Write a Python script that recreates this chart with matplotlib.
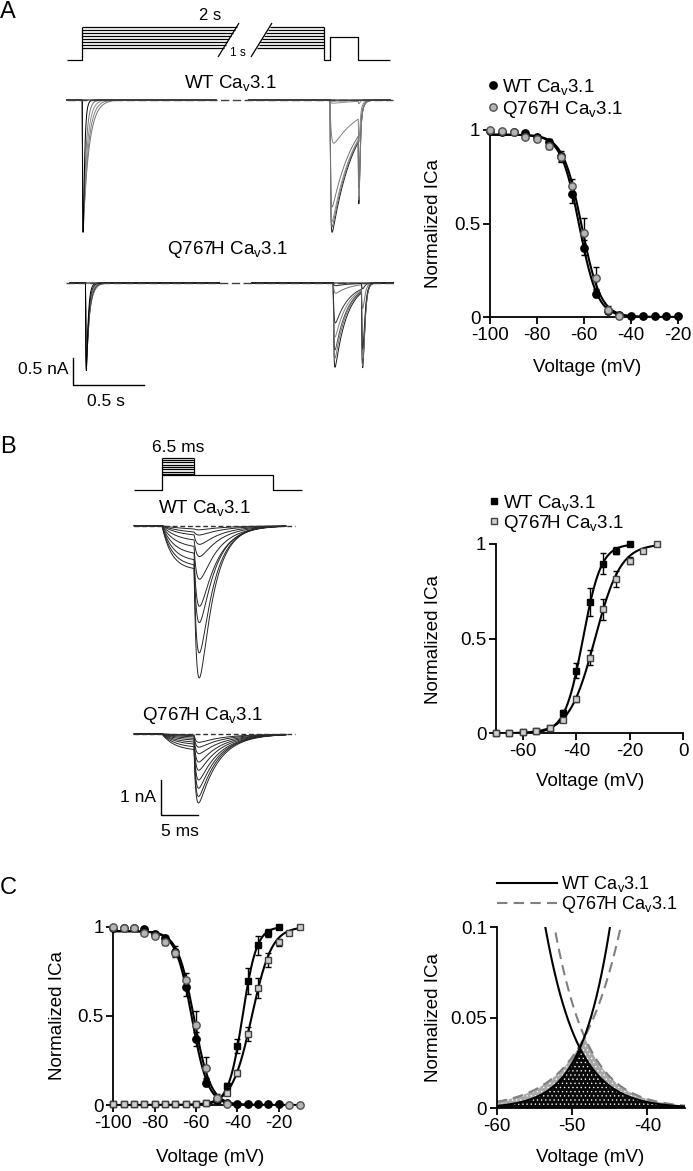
import numpy as np
import matplotlib
matplotlib.use("Agg")
import matplotlib.pyplot as plt
from matplotlib.lines import Line2D

plt.rcParams['font.family'] = ['Liberation Sans', 'DejaVu Sans']
plt.rcParams['mathtext.fontset'] = 'custom'
plt.rcParams['mathtext.rm'] = 'Liberation Sans'
plt.rcParams['mathtext.it'] = 'Liberation Sans:italic'
plt.rcParams['axes.unicode_minus'] = False
plt.rcParams['hatch.linewidth'] = 0.45
plt.rcParams['hatch.color'] = 'white'

W, H = 693, 1171
WT = r'WT Ca$_\mathrm{v}$3.1'
QH = r'Q767H Ca$_\mathrm{v}$3.1'

# ---------------- data ----------------
# steady-state inactivation (normalized ICa), mean and SEM
inact_v = [-100, -95, -90, -85, -80, -75, -70, -65, -60, -55,
           -50, -45, -40, -35, -30, -25, -20, -15, -10]
wt_inact = [0.995, 0.99, 0.99, 0.985, 0.96, 0.935, 0.86, 0.66, 0.37, 0.125,
            0.03, 0.01, 0.005, 0.005, 0.005, 0.005, 0.005, np.nan, np.nan]
wt_inact_sem = [0.005, 0.005, 0.005, 0.01, 0.01, 0.015, 0.03, 0.05, 0.04, 0.02,
                0.01, 0.005, 0, 0, 0, 0, 0, np.nan, np.nan]
# Q767H points at -40..-20 lie under the WT symbols
q_inact = [1.0, 0.995, 0.99, 0.965, 0.95, 0.915, 0.855, 0.70, 0.45, 0.21,
           0.04, 0.008, np.nan, np.nan, np.nan, np.nan, np.nan, 0.0, 0.0]
q_inact_sem = [0, 0, 0, 0.01, 0.01, 0.015, 0.02, 0.04, 0.08, 0.06,
               0.02, 0, np.nan, np.nan, np.nan, np.nan, np.nan, 0, 0]

# activation (normalized ICa), mean and SEM
act_v = [-100, -95, -90, -85, -80, -75, -70, -65, -60, -55,
         -50, -45, -40, -35, -30, -25, -20, -15, -10]
wt_act = [0.003, 0.003, 0.003, 0.003, 0.003, 0.003, 0.004, 0.004, 0.007, 0.01,
          0.03, 0.105, 0.33, 0.695, 0.895, 0.965, 0.998, np.nan, np.nan]
wt_act_sem = [0.003, 0.003, 0.003, 0.003, 0.003, 0.003, 0.003, 0.003, 0.003, 0.005,
              0.01, 0.02, 0.04, 0.075, 0.055, 0.02, 0.005, np.nan, np.nan]
q_act = [0.003, 0.003, 0.003, 0.003, 0.003, 0.003, 0.003, 0.004, 0.006, 0.01,
         0.03, 0.07, 0.18, 0.40, 0.655, 0.815, 0.912, 0.965, 1.0]
q_act_sem = [0.003, 0.003, 0.003, 0.003, 0.003, 0.003, 0.003, 0.003, 0.003, 0.005,
             0.01, 0.01, 0.015, 0.04, 0.055, 0.04, 0.02, 0.01, 0.005]

# Boltzmann fit parameters (V1/2 in mV, slope k in mV)
wt_inact_fit = (-62.0, 3.9)
q_inact_fit = (-61.0, 4.0)
wt_act_fit = (-37.5, 3.4)
q_act_fit = (-33.0, 4.8)
inact_top = 0.975

# Panel A protocol (mV) and timing (display seconds)
a_hold = -110
a_cond_levels = [-70, -60, -50, -40, -30, -20, -10, 0]
a_test_level = -35
a_t_start, a_cond_end, a_test_on, a_test_off, a_t_end = -0.11, 1.697, 1.737, 1.935, 2.16
a_gap = (0.94, 1.165)

# Panel A current sweeps (peak nA, time constants s)
wt_a_cond_amp = [0.0, 0.0, 0.0, 2.1, 2.2, 2.3, 2.4, 2.45]
wt_a_cond_tau = [0.04, 0.04, 0.04, 0.042, 0.034, 0.026, 0.018, 0.010]
wt_a_test_amp = [2.45, 2.35, 2.25, 1.98, 0.80, 0.06, 0.02, 0.0]
wt_a_test_rise = [0.004, 0.004, 0.004, 0.004, 0.008, 0.006, 0.006, 0.006]
wt_a_test_tau = [0.157, 0.157, 0.16, 0.165, 0.2, 0.2, 0.2, 0.2]
wt_a_tail_amp = [1.3, 1.25, 1.2, 1.1, 0.5, 0.05, 0.0, 0.0]

q_a_cond_amp = [0.0, 0.0, 1.1, 1.25, 1.38, 1.48, 1.56, 1.62]
q_a_cond_tau = [0.026, 0.026, 0.026, 0.024, 0.021, 0.018, 0.015, 0.012]
q_a_test_amp = [1.56, 1.39, 1.24, 1.00, 0.74, 0.19, 0.05, 0.0]
q_a_test_rise = [0.004, 0.004, 0.004, 0.004, 0.005, 0.006, 0.006, 0.006]
q_a_test_tau = [0.085, 0.085, 0.087, 0.09, 0.095, 0.1, 0.1, 0.1]
q_a_tail_amp = [1.45, 1.42, 1.38, 1.3, 1.15, 0.45, 0.1, 0.0]

# Panel B protocol (mV) and timing (ms)
b_hold = -110
b_pulse_levels = [-45, -35, -25, -15, -5, 5, 15, 25]
b_fixed_level = -50
b_t_start, b_step, b_fixed_end, b_t_end = -3.73, 4.27, 14.84, 18.63

# Panel B current sweeps (nA, ms)
wt_b_pre = [0.12, 0.22, 0.31, 0.46, 0.65, 0.84, 1.03, 1.17, 1.27]
wt_b_pre_tau = [3.0, 2.6, 2.3, 2.0, 1.8, 1.6, 1.5, 1.4, 1.3]
wt_b_tail = [0.12, 0.27, 0.54, 0.89, 1.54, 2.31, 2.77, 3.63, 4.34]
wt_b_decay = [3.5, 3.3, 3.0, 2.8, 2.5, 2.3, 2.1, 1.95, 1.85]
q_b_pre = [0.03, 0.06, 0.10, 0.15, 0.20, 0.26, 0.32, 0.40, 0.48]
q_b_pre_tau = [3.0, 2.8, 2.6, 2.4, 2.2, 2.0, 1.9, 1.8, 1.7]
q_b_tail = [0.24, 0.38, 0.57, 0.81, 1.05, 1.33, 1.57, 1.81, 2.0]
q_b_decay = [3.4, 3.3, 3.2, 3.0, 2.9, 2.8, 2.7, 2.6, 2.6]

# ---------------- helpers ----------------
fig = plt.figure(figsize=(W / 100, H / 100), dpi=100)


def axes_px(x0, y0, x1, y1):
    return fig.add_axes([x0 / W, 1 - y1 / H, (x1 - x0) / W, (y1 - y0) / H])


def text_px(x, y, s, **kw):
    fig.text(x / W, 1 - y / H, s, **kw)


def px_to_data(ax, x, y):
    return ax.transData.inverted().transform((x, H - y))


def trace_axes(box, t0_px, px_per_t, base_px, px_per_i):
    x0, y0, x1, y1 = box
    ax = axes_px(x0, y0, x1, y1)
    ax.set_xlim((x0 - t0_px) / px_per_t, (x1 - t0_px) / px_per_t)
    ax.set_ylim(-(y1 - base_px) / px_per_i, -(y0 - base_px) / px_per_i)
    ax.axis('off')
    return ax


def proto_axes(box, t0_px, px_per_t, hold_px, hold_v, px_per_mv):
    x0, y0, x1, y1 = box
    ax = axes_px(x0, y0, x1, y1)
    ax.set_xlim((x0 - t0_px) / px_per_t, (x1 - t0_px) / px_per_t)
    ax.set_ylim(hold_v - (y1 - hold_px) / px_per_mv, hold_v + (hold_px - y0) / px_per_mv)
    ax.axis('off')
    return ax


def inact_curve(v, v50, k):
    return inact_top / (1 + np.exp((v - v50) / k))


def act_curve(v, v50, k):
    return 1 / (1 + np.exp((v50 - v) / k))


def bi_exp(dt, tr, td):
    # difference of exponentials scaled to a peak of 1
    tpk = tr * td / (td - tr) * np.log(td / tr)
    peak = np.exp(-tpk / td) - np.exp(-tpk / tr)
    return (np.exp(-dt / td) - np.exp(-dt / tr)) / peak


def a_sweep(t, cond_amp, cond_tau, test_amp, test_rise, test_tau, tail_amp, tail_tr, tail_td):
    i = np.zeros_like(t)
    c = (t >= 0) & (t < a_cond_end)
    i[c] = -cond_amp * bi_exp(t[c], 0.003, cond_tau)
    s = (t >= a_test_on) & (t < a_test_off)
    i[s] = -test_amp * bi_exp(t[s] - a_test_on, test_rise, test_tau)
    end = test_amp * bi_exp(a_test_off - a_test_on, test_rise, test_tau)
    f = t >= a_test_off
    dt = t[f] - a_test_off
    i[f] = -(end * np.exp(-dt / 0.02) + tail_amp * bi_exp(dt, tail_tr, tail_td))
    i[(t > a_gap[0]) & (t < a_gap[1])] = np.nan
    return i


def b_sweep(t, pre, pre_tau, tail, decay, tr):
    i = np.zeros_like(t)
    p = (t >= 0) & (t < b_step)
    i[p] = -pre * (1 - np.exp(-t[p] / pre_tau))
    end = pre * (1 - np.exp(-b_step / pre_tau))
    f = t >= b_step
    dt = t[f] - b_step
    i[f] = -(end * np.exp(-dt / tr) + max(tail - end * 0.15, 0) * bi_exp(dt, tr, decay))
    return i


def style(ax):
    for s in ['top', 'right']:
        ax.spines[s].set_visible(False)
    for s in ['left', 'bottom']:
        ax.spines[s].set_linewidth(1.3)
    ax.tick_params(direction='out', length=5, width=1.3, labelsize=13.5, pad=2)


def labels(ax, xc, yc, xlab_y, ylab_x):
    ax.set_xlabel('Voltage (mV)', fontsize=13.5)
    ax.xaxis.set_label_coords(xc / W, 1 - xlab_y / H, transform=fig.transFigure)
    ax.xaxis.label.set_va('center')
    ax.set_ylabel('Normalized ICa', fontsize=13.5)
    ax.yaxis.set_label_coords(ylab_x / W, 1 - yc / H, transform=fig.transFigure)
    ax.yaxis.label.set_va('center')


def points(ax, v, m, e, marker, face, edge, ms):
    ax.errorbar(v, m, yerr=e, fmt='none', ecolor='black', elinewidth=1.0,
                capsize=2, capthick=1.0, clip_on=False, zorder=3)
    ax.plot(v, m, ls='none', marker=marker, mfc=face, mec=edge, mew=1.0, ms=ms,
            clip_on=False, zorder=4)


WT_C = dict(marker='o', face='black', edge='black', ms=5.3)
Q_C = dict(marker='o', face='#b4b4b4', edge='#505050', ms=5.3)
WT_S = dict(marker='s', face='black', edge='black', ms=4.8)
Q_S = dict(marker='s', face='#cfcfcf', edge='#404040', ms=4.8)

# ---------------- panel letters ----------------
text_px(0, 12, 'A', fontsize=17, va='center', ha='left')
text_px(0, 447, 'B', fontsize=17, va='center', ha='left')
text_px(0, 888, 'C', fontsize=17, va='center', ha='left')

# ---------------- A: protocol ----------------
ax = proto_axes((55, 5, 395, 68), 82.3, 142.6, 60, a_hold, 0.304)
top = max(a_cond_levels)
s1 = ((0.952, -100), (1.099, 11.7))
s2 = ((1.183, -100), (1.330, 11.7))
kw = dict(color='black', lw=0.9, solid_capstyle='butt')
ax.plot([a_t_start, 0, 0], [a_hold, a_hold, top], **kw)
for lev in a_cond_levels:
    t1 = s1[0][0] + (lev - s1[0][1]) / (s1[1][1] - s1[0][1]) * (s1[1][0] - s1[0][0])
    t2 = s2[0][0] + (lev - s2[0][1]) / (s2[1][1] - s2[0][1]) * (s2[1][0] - s2[0][0])
    ax.plot([0, t1], [lev, lev], **kw)
    ax.plot([t2, a_cond_end], [lev, lev], **kw)
for s in (s1, s2):
    ax.plot([s[0][0], s[1][0]], [s[0][1], s[1][1]], **kw)
ax.plot([a_cond_end, a_cond_end, a_test_on, a_test_on, a_test_off, a_test_off, a_t_end],
        [top, a_hold, a_hold, a_test_level, a_test_level, a_hold, a_hold], **kw)
text_px(210, 15, '2 s', fontsize=12, ha='center', va='center')
text_px(238, 53, '1 s', fontsize=8.5, ha='center', va='center')

# ---------------- A: traces ----------------
ta = np.linspace(a_t_start, a_t_end, 8000)
grey_a = ['0.1', '0.45', '0.55', '0.45', '0.5', '0.55', '0.45', '0.0']
ax = trace_axes((55, 85, 395, 245), 82.3, 142.6, 100, 54)
ax.plot([a_t_start, a_t_end + 0.02], [0, 0], color='0.25', lw=1.0, ls=(0, (6, 2.5)), zorder=5)
for k in range(len(wt_a_cond_amp)):
    ax.plot(ta, a_sweep(ta, wt_a_cond_amp[k], wt_a_cond_tau[k], wt_a_test_amp[k],
                        wt_a_test_rise[k], wt_a_test_tau[k], wt_a_tail_amp[k], 0.004, 0.006),
            color=grey_a[k], lw=0.7)
text_px(230, 83, WT, fontsize=13.5, ha='center', va='center')

grey_q = ['0.1', '0.45', '0.3', '0.5', '0.2', '0.45', '0.15', '0.0']
ax = trace_axes((55, 268, 395, 405), 85.5, 142.6, 283, 54)
ax.plot([a_t_start - 0.03, a_t_end], [0, 0], color='0.25', lw=1.0, ls=(0, (6, 2.5)), zorder=5)
for k in range(len(q_a_cond_amp)):
    ax.plot(ta, a_sweep(ta, q_a_cond_amp[k], q_a_cond_tau[k], q_a_test_amp[k],
                        q_a_test_rise[k], q_a_test_tau[k], q_a_tail_amp[k], 0.007, 0.012),
            color=grey_q[k], lw=0.7)
text_px(227, 250, QH, fontsize=13.5, ha='center', va='center')
# scale bar 0.5 nA / 0.5 s
t_sb, i_sb = px_to_data(ax, 72.7, 385)
ax.plot([t_sb, t_sb, t_sb + 0.5], [i_sb + 0.5, i_sb, i_sb], color='black', lw=1.0, clip_on=False)
text_px(68, 369, '0.5 nA', fontsize=12.5, ha='right', va='center')
text_px(106, 401, '0.5 s', fontsize=12.5, ha='center', va='center')

# ---------------- A: inactivation ----------------
ax = axes_px(490, 130, 678, 317)
style(ax)
va = np.linspace(-100, -20, 300)
ax.plot(va, inact_curve(va, *wt_inact_fit), color='black', lw=1.5, zorder=2)
ax.plot(va, inact_curve(va, *q_inact_fit), color='black', lw=1.5, zorder=2)
n_a = inact_v.index(-20) + 1
points(ax, inact_v[:n_a], wt_inact[:n_a], wt_inact_sem[:n_a], **WT_C)
points(ax, inact_v[:n_a], q_inact[:n_a], q_inact_sem[:n_a], **Q_C)
ax.set_xlim(-100, -20)
ax.set_ylim(0, 1)
ax.set_xticks([-100, -80, -60, -40, -20])
ax.set_yticks([0, 0.5, 1])
ax.set_yticklabels(['0', '0.5', '1'])
labels(ax, 587, 223, 367, 433)
h = [Line2D([], [], ls='none', marker='o', mfc='black', mec='black', ms=5.3),
     Line2D([], [], ls='none', marker='o', mfc='#b4b4b4', mec='#505050', ms=5.3)]
ax.legend(h, [WT, QH], loc='upper left', bbox_to_anchor=(488 / W, 1 - 77 / H),
          bbox_transform=fig.transFigure, frameon=False, fontsize=13.5,
          handlelength=0.55, handletextpad=0.2, labelspacing=0.1,
          borderpad=0, borderaxespad=0)

# ---------------- B: protocol ----------------
ax = proto_axes((130, 440, 305, 495), 162, 7.5, 489.5, b_hold, 0.236)
top = max(b_pulse_levels)
ax.plot([b_t_start, 0, 0], [b_hold, b_hold, top], **kw)
for lev in b_pulse_levels:
    ax.plot([0, b_step], [lev, lev], **kw)
ax.plot([b_step, b_step], [top, b_fixed_level], **kw)
ax.plot([0, b_fixed_end, b_fixed_end, b_t_end],
        [b_fixed_level, b_fixed_level, b_hold, b_hold], **kw)
text_px(178, 448, '6.5 ms', fontsize=12.5, ha='center', va='center')

# ---------------- B: traces ----------------
tb = np.linspace(-3.7, 16.5, 6000)
ax = trace_axes((125, 515, 305, 690), 162, 7.5, 525.7, 35)
ax.plot([-3.7, 17.7], [0, 0], color='0.2', lw=1.0, ls=(0, (3.5, 2)), zorder=5)
for k in range(len(wt_b_pre)):
    ax.plot(tb, b_sweep(tb, wt_b_pre[k], wt_b_pre_tau[k], wt_b_tail[k], wt_b_decay[k], 0.4),
            color='0.15', lw=0.7)
text_px(204, 508, WT, fontsize=13.5, ha='center', va='center')

ax = trace_axes((100, 722, 305, 820), 162, 7.5, 734, 35)
ax.plot([-3.7, 17.7], [0, 0], color='0.2', lw=1.0, ls=(0, (3.5, 2)), zorder=5)
for k in range(len(q_b_pre)):
    ax.plot(tb, b_sweep(tb, q_b_pre[k], q_b_pre_tau[k], q_b_tail[k], q_b_decay[k], 0.25),
            color='0.15', lw=0.7)
text_px(202, 715, QH, fontsize=13.5, ha='center', va='center')
t_sb, i_sb = px_to_data(ax, 160.7, 815)
ax.plot([t_sb, t_sb, t_sb + 5], [i_sb + 1, i_sb, i_sb], color='black', lw=1.0, clip_on=False)
text_px(156, 797, '1 nA', fontsize=12.5, ha='right', va='center')
text_px(180, 831, '5 ms', fontsize=12.5, ha='center', va='center')

# ---------------- B: activation ----------------
ax = axes_px(496, 544, 683.3, 733.3)
style(ax)
vb = np.linspace(-70, -20, 300)
ax.plot(vb, act_curve(vb, *wt_act_fit), color='black', lw=1.5, zorder=2)
vb = np.linspace(-70, -10, 300)
ax.plot(vb, act_curve(vb, *q_act_fit), color='black', lw=1.5, zorder=2)
n0 = act_v.index(-70)
points(ax, act_v[n0:], wt_act[n0:], wt_act_sem[n0:], **WT_S)
points(ax, act_v[n0:], q_act[n0:], q_act_sem[n0:], **Q_S)
ax.set_xlim(-70, 0)
ax.set_ylim(0, 1)
ax.set_xticks([-60, -40, -20, 0])
ax.set_yticks([0, 0.5, 1])
ax.set_yticklabels(['0', '0.5', '1'])
labels(ax, 590, 639, 782, 433)
h = [Line2D([], [], ls='none', marker='s', mfc='black', mec='black', ms=4.8),
     Line2D([], [], ls='none', marker='s', mfc='#cfcfcf', mec='#404040', ms=4.8)]
ax.legend(h, [WT, QH], loc='upper left', bbox_to_anchor=(489 / W, 1 - 493 / H),
          bbox_transform=fig.transFigure, frameon=False, fontsize=13.5,
          handlelength=0.55, handletextpad=0.2, labelspacing=0.0,
          borderpad=0, borderaxespad=0)

# ---------------- C: overlay ----------------
ax = axes_px(113.3, 926.7, 299.5, 1105)
style(ax)
vc = np.linspace(-100, -10, 400)
ax.plot(vc, inact_curve(vc, *wt_inact_fit), color='black', lw=1.5, zorder=2)
ax.plot(vc, inact_curve(vc, *q_inact_fit), color='black', lw=1.5, zorder=2)
ax.plot(vc, act_curve(vc, *q_act_fit), color='black', lw=1.5, zorder=2)
vw = np.linspace(-100, -20, 400)
ax.plot(vw, act_curve(vw, *wt_act_fit), color='black', lw=1.5, zorder=2)
points(ax, act_v, wt_act, wt_act_sem, **WT_S)
points(ax, act_v, q_act, q_act_sem, **Q_S)
points(ax, inact_v, wt_inact, wt_inact_sem, **WT_C)
points(ax, inact_v, q_inact, q_inact_sem, **Q_C)
ax.set_xlim(-100, -10)
ax.set_ylim(0, 1)
ax.set_xticks([-100, -80, -60, -40, -20])
ax.set_yticks([0, 0.5, 1])
ax.set_yticklabels(['0', '0.5', '1'])
labels(ax, 210, 1016, 1158, 57)

# ---------------- C: window current ----------------
ax = axes_px(496.7, 927.3, 685, 1108.3)
style(ax)
vw = np.linspace(-60, -35, 600)
h_wt, m_wt = inact_curve(vw, *wt_inact_fit), act_curve(vw, *wt_act_fit)
h_q, m_q = inact_curve(vw, *q_inact_fit), act_curve(vw, *q_act_fit)
ax.fill_between(vw, 0, np.minimum(h_q, m_q), facecolor='#a8a8a8', edgecolor='white',
                hatch='....', linewidth=0, zorder=1)
ax.fill_between(vw, 0, np.minimum(h_wt, m_wt), facecolor='#0a0a0a', edgecolor='white',
                hatch='....', linewidth=0, zorder=1.5)
ax.plot(vw, h_q, color='#808080', lw=1.5, ls=(0, (5, 3)), zorder=2)
ax.plot(vw, m_q, color='#808080', lw=1.5, ls=(0, (5, 3)), zorder=2)
ax.plot(vw, h_wt, color='black', lw=1.5, zorder=3)
ax.plot(vw, m_wt, color='black', lw=1.5, zorder=3)
ax.set_xlim(-60, -35)
ax.set_ylim(0, 0.1)
ax.set_xticks([-60, -50, -40])
ax.set_yticks([0, 0.05, 0.1])
ax.set_yticklabels(['0', '0.05', '0.1'])
labels(ax, 590, 1018, 1158, 433)
h = [Line2D([], [], color='black', lw=1.5),
     Line2D([], [], color='#808080', lw=1.5, ls=(0, (5, 3)))]
ax.legend(h, [WT, QH], loc='upper left', bbox_to_anchor=(496.7 / W, 1 - 874 / H),
          bbox_transform=fig.transFigure, frameon=False, fontsize=13,
          handlelength=3.35, handletextpad=0.2, labelspacing=0.0,
          borderpad=0, borderaxespad=0)

fig.savefig('out.png', dpi=100)
